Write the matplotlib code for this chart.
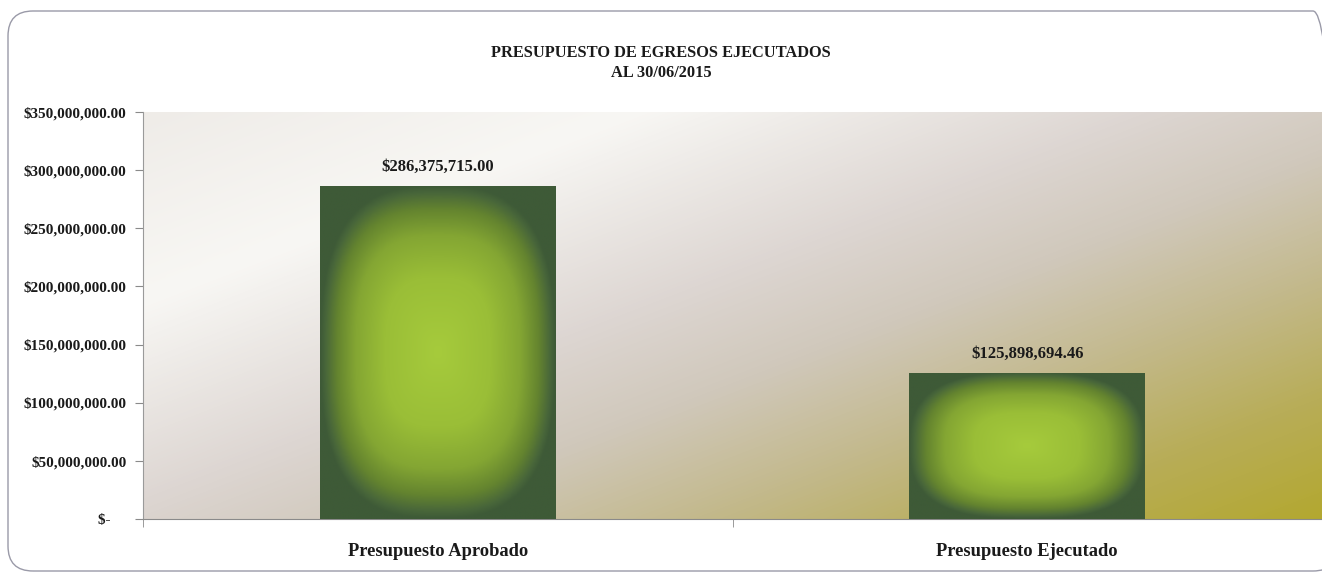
import matplotlib
matplotlib.use("Agg")
import matplotlib.pyplot as plt
import numpy as np
from matplotlib.colors import LinearSegmentedColormap
from matplotlib.patches import FancyBboxPatch
from matplotlib.ticker import FixedLocator

# data
categories = ["Presupuesto Aprobado", "Presupuesto Ejecutado"]
values = [286375715.00, 125898694.46]
value_labels = ["$286,375,715.00", "$125,898,694.46"]
y_ticks = [0, 50e6, 100e6, 150e6, 200e6, 250e6, 300e6, 350e6]
y_tick_labels = ["$-    ", "$50,000,000.00", "$100,000,000.00", "$150,000,000.00",
                 "$200,000,000.00", "$250,000,000.00", "$300,000,000.00",
                 "$350,000,000.00"]
title = "PRESUPUESTO DE EGRESOS EJECUTADOS\nAL 30/06/2015"

plt.rcParams['font.family'] = ['Liberation Serif', 'DejaVu Serif']
plt.rcParams['font.weight'] = 'bold'

fig = plt.figure(figsize=(13.22, 5.74), dpi=100)
fig.patch.set_facecolor("white")

# rounded frame of the chart (inches)
frame = FancyBboxPatch((0.08, 0.03), 13.3, 5.60,
                       boxstyle="round,pad=0,rounding_size=0.25",
                       transform=fig.dpi_scale_trans, facecolor="none",
                       edgecolor="#9a9aa8", linewidth=1.0)
fig.patches.append(frame)

ax = fig.add_axes([143/1322, 1-519/574, 1-143/1322, (519-112)/574])

# background gradient of the plot area
bg_cmap = LinearSegmentedColormap.from_list("bg", [
    (0.0, "#efece8"), (0.22, "#f8f7f4"), (0.45, "#ddd6d2"),
    (0.58, "#d0c8bb"), (0.72, "#c3b98c"), (0.86, "#b8ad58"), (1.0, "#b3a830")])
H, W = 407, 1180
Y, X = np.mgrid[0:H, 0:W]
u = (X + 2.6*Y) / (W + 2.6*H)
ax.imshow(u, cmap=bg_cmap, extent=(-0.5, 1.5, 0, 350e6), aspect='auto',
          origin='upper', zorder=0, interpolation='bilinear')

x = np.arange(len(categories))
bars = ax.bar(x, values, width=0.4, color="#3d5a36", zorder=2, linewidth=0)

# bar fill: glow from the centre
bar_cmap = LinearSegmentedColormap.from_list("bar", [
    (0.0, "#a6cb3c"), (0.45, "#9abe37"), (0.7, "#84a633"),
    (0.86, "#64842f"), (0.96, "#48663a"), (1.0, "#3e5a37")])
for b in bars:
    gy, gx = np.mgrid[-1:1:200j, -1:1:200j]
    t = (np.abs(gx)**2.8 + np.abs(gy)**2.8)**(1/2.8)
    t = np.clip(t, 0, 1)
    im = ax.imshow(t, cmap=bar_cmap, vmin=0, vmax=1,
                   extent=(b.get_x(), b.get_x()+b.get_width(), 0, b.get_height()),
                   aspect='auto', zorder=3, interpolation='bilinear')
    im.set_clip_path(b)

for b, lab in zip(bars, value_labels):
    ax.annotate(lab, (b.get_x()+b.get_width()/2, b.get_height()),
                xytext=(0, 8), textcoords='offset points', ha='center',
                va='bottom', fontsize=12, fontweight='bold', color="#1a1a1a")

ax.set_xlim(-0.5, 1.5)
ax.set_ylim(0, 350e6)
ax.set_yticks(y_ticks)
ax.set_yticklabels(y_tick_labels)
ax.set_xticks(x)
ax.set_xticklabels(categories)
ax.xaxis.set_minor_locator(FixedLocator([-0.5, 0.5, 1.5]))
ax.tick_params(axis='x', which='major', length=0, pad=17, labelsize=13.3)
ax.tick_params(axis='x', which='minor', length=6, color="#8a8a8a", direction='out')
ax.tick_params(axis='y', length=6, color="#8a8a8a", labelsize=11.0, pad=6)
for lab in ax.get_xticklabels() + ax.get_yticklabels():
    lab.set_fontweight('bold')
    lab.set_color("#1a1a1a")

for s in ['top', 'right']:
    ax.spines[s].set_visible(False)
ax.spines['left'].set_color("#9a9a9a")
ax.spines['bottom'].set_color("#8a8a8a")
ax.spines['left'].set_linewidth(0.8)
ax.spines['bottom'].set_linewidth(0.8)

fig.text(0.5, 1-63/574, title, ha='center', va='center', fontsize=11.8,
         fontweight='bold', color="#1a1a1a", linespacing=1.4)

plt.savefig("out.png", dpi=100)
